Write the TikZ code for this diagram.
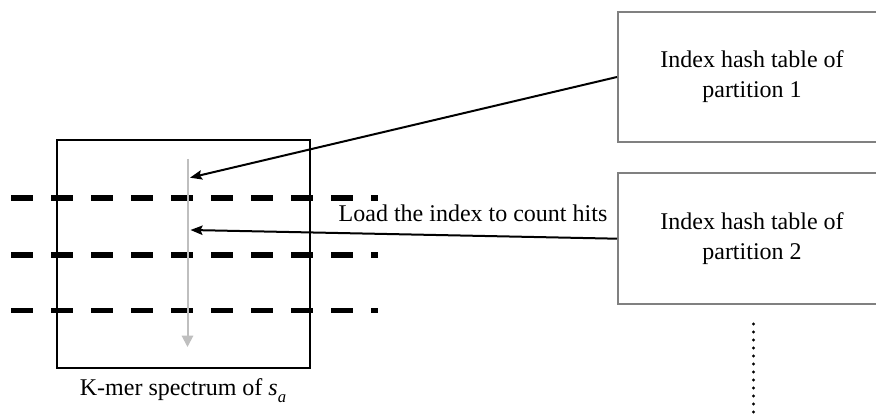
\documentclass[tikz,border=0pt]{standalone}
\usepackage{fontspec}
\setmainfont{Liberation Serif}
\usetikzlibrary{arrows.meta}
\begin{document}
\begin{tikzpicture}[x=0.75pt,y=-0.75pt,
  every node/.style={font=\fontsize{18pt}{22.5pt}\selectfont, inner sep=0pt},
  spectrum/.style={draw=black, line width=1.1pt, minimum width=189.75pt, minimum height=170.8pt},
  tablebox/.style={draw=black!50, line width=1.5pt, minimum width=201pt, minimum height=98pt, align=center},
  partline/.style={line width=4.1pt, dash pattern=on 16.5pt off 13.5pt},
  loadarrow/.style={line width=1.5pt, -{Stealth[length=9pt, width=7pt, inset=1.5pt]}},
  scanarrow/.style={draw=black!25, line width=1.5pt, -{Triangle[length=8.5pt, width=8.5pt]}},
  moredots/.style={line width=2.3pt, line cap=round, dash pattern=on 0pt off 6pt}]
\useasboundingbox (0,0) rectangle (876,416);
\clip (0,0) rectangle (876,416);

% k-mer spectrum of the query sequence
\node[spectrum] (spec) at (183.5,254) {};
\node[anchor=center] (speclabel) at (183,391) {K-mer spectrum of \textit{s}\raisebox{-0.3em}{\fontsize{12.5pt}{12.5pt}\selectfont\textit{a}}};

% partition boundaries
\coordinate (p1a) at (11,198);   \coordinate (p1b) at (378,198);
\coordinate (p2a) at (11,255);   \coordinate (p2b) at (378,255);
\coordinate (p3a) at (11,310.5); \coordinate (p3b) at (378,310.5);
\draw[partline] (p1a) -- (p1b);
\draw[partline] (p2a) -- (p2b);
\draw[partline] (p3a) -- (p3b);

% scanning direction through the spectrum
\coordinate (scantop) at (187.5,159);
\coordinate (scanend) at (187.5,347);
\draw[scanarrow] (scantop) -- (scanend);

% index hash tables
\node[tablebox, minimum height=97.5pt] (idx1) at (752,77) {Index hash table of\\partition 1};
\node[tablebox] (idx2) at (752,238.7) {Index hash table of\\partition 2};

% further partitions
\coordinate (dotstop) at (753.5,324);
\coordinate (dotsend) at (753.5,416);
\draw[moredots] (dotstop) -- (dotsend);

% loading the indexes
\coordinate (hit1) at (190,177.7);
\coordinate (hit2) at (190.5,230);
\draw[loadarrow] (idx1.west) -- (hit1);
\draw[loadarrow] (idx2.west) -- (hit2);
\node (loadlabel) at (473,213) {Load the index to count hits};
\end{tikzpicture}
\end{document}
